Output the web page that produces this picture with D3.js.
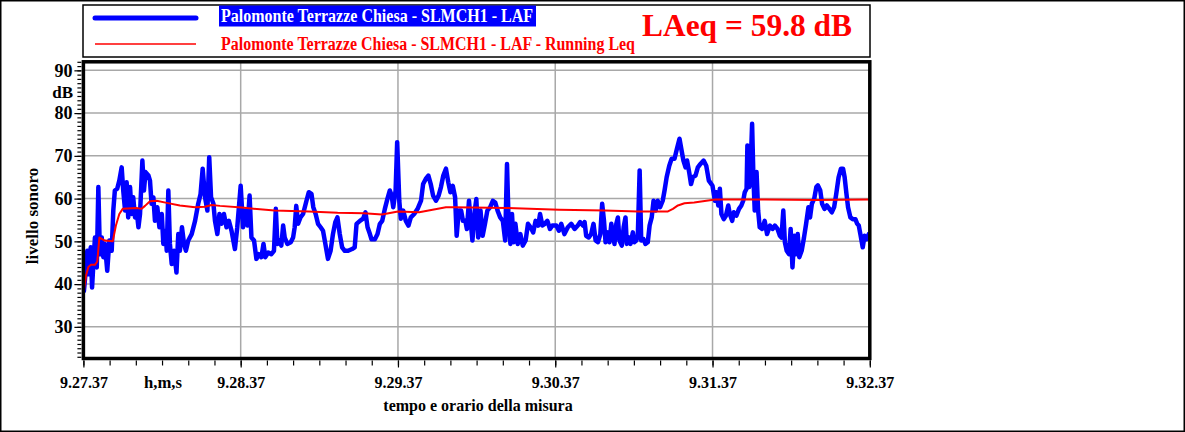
<!DOCTYPE html>
<html><head><meta charset="utf-8">
<script src="https://cdn.jsdelivr.net/npm/d3@7"></script>
<style>body{margin:0;background:#fff;overflow:hidden}text{font-family:"Liberation Serif","Times New Roman",serif;font-weight:bold}</style>
</head><body><svg id="c" width="1185" height="432"></svg>
<script>
// LAF level, seconds from 9.27.37
const lafTime = [0.2,1.0,1.5,2.1,2.8,3.3,3.8,4.4,5.1,5.7,6.3,7.0,7.6,8.2,9.1,9.9,10.8,11.4,12.0,12.9,13.7,14.6,15.2,15.9,16.5,17.1,17.8,18.4,19.0,19.7,20.3,21.0,21.6,22.5,23.1,23.7,24.8,25.4,26.0,26.7,27.3,28.2,29.0,29.9,30.5,31.3,31.8,32.4,33.0,33.7,34.6,35.5,36.2,36.8,37.6,38.4,39.1,40.0,41.3,42.6,43.8,44.7,45.5,46.4,47.3,48.0,48.7,49.6,50.2,51.1,51.9,52.7,53.6,54.6,55.5,56.5,57.8,58.7,
60.0,60.9,61.8,62.6,63.4,64.1,65.1,66.0,66.9,67.9,68.7,69.4,70.5,71.7,72.7,73.4,74.0,74.9,75.5,76.2,76.8,77.8,79.1,80.0,80.6,81.2,81.9,82.8,83.8,85.1,86.0,87.0,87.7,88.6,89.5,90.5,91.4,92.3,93.3,94.3,95.2,96.1,96.9,97.8,98.7,99.7,101.0,102.5,103.5,104.2,105.5,106.7,107.6,108.4,109.3,109.9,111.2,112.2,113.1,114.0,115.0,116.0,116.9,117.6,118.2,119.1,119.7,
120.5,121.1,122.0,123.0,124.0,124.9,126.2,127.5,128.8,129.6,130.6,131.6,132.5,133.4,134.5,135.5,136.4,137.3,138.3,139.2,140.0,140.9,141.8,142.4,143.2,144.1,144.8,145.7,146.3,147.1,147.6,148.4,149.3,149.9,150.6,151.5,152.3,153.2,154.1,155.2,156.2,157.1,158.0,159.0,160.0,160.9,161.6,162.2,162.9,163.5,164.1,164.8,165.7,166.7,167.6,168.7,169.6,170.6,171.6,172.5,173.5,174.2,175.1,176.0,177.0,178.0,178.9,
180.4,181.4,182.3,183.5,184.8,186.1,187.4,188.6,189.5,190.6,191.2,191.8,192.8,193.7,194.6,195.4,196.3,197.2,197.9,198.6,199.2,200.1,200.7,201.4,202.0,202.6,203.3,203.9,204.5,205.4,206.1,206.8,207.3,208.1,208.7,209.6,210.2,210.9,211.5,212.2,212.8,213.7,214.4,215.3,216.0,216.8,217.5,218.3,219.1,220.0,221.0,221.7,222.5,223.5,224.4,225.5,226.4,227.4,228.3,228.9,229.7,230.3,231.2,231.8,232.5,233.5,234.4,235.4,236.6,237.6,238.6,
240.0,240.9,241.5,242.2,242.8,243.4,244.3,245.1,246.0,246.6,247.5,248.1,249.1,250.1,251.0,251.7,252.3,253.0,253.3,254.0,254.5,255.1,255.6,256.1,256.8,257.4,258.0,258.9,259.9,260.8,261.9,262.9,263.8,264.8,265.7,266.3,267.0,267.6,268.3,269.2,269.8,270.5,271.2,271.9,272.5,273.1,274.0,274.9,275.7,276.6,277.2,277.9,278.8,279.6,280.2,281.1,281.8,282.7,283.6,284.6,285.5,286.4,287.2,288.1,289.0,289.8,290.4,291.1,291.7,292.6,293.5,294.5,295.2,295.8,296.4,297.3,298.0,298.7,299.6];
const lafLevel = [38.4,43.9,47.8,42.3,48.6,39.2,44.7,50.9,43.9,62.7,47.0,50.9,46.3,49.4,43.1,50.2,47.8,57.2,61.9,62.3,64.2,67.3,61.9,57.2,63.8,55.6,62.7,56.4,60.3,55.6,57.2,53.3,56.4,68.9,61.9,66.2,65.4,64.2,58.8,60.3,54.8,58.0,53.3,56.4,49.4,52.5,47.8,61.9,49.4,44.7,47.8,42.7,51.7,47.8,53.3,49.4,47.8,50.2,51.7,54.8,58.8,61.1,67.0,60.3,57.2,69.7,60.3,58.8,54.8,51.7,56.4,54.1,56.4,53.3,54.8,52.5,48.2,53.3,
63.0,53.3,57.2,53.7,60.7,50.9,50.2,45.9,47.0,46.3,49.4,46.3,47.4,47.0,47.8,57.6,49.4,50.2,49.0,53.7,50.9,49.4,49.8,50.9,53.3,58.3,54.1,55.6,56.4,59.5,61.5,61.1,58.0,56.4,54.1,53.3,52.5,49.4,45.9,47.8,51.7,54.5,55.6,51.7,48.6,47.8,47.8,48.2,48.6,54.1,54.8,55.3,56.8,53.3,51.7,50.5,50.5,51.7,54.1,54.8,57.6,60.0,61.9,60.7,58.0,61.9,73.2,
59.5,55.3,57.2,54.8,53.7,55.6,56.4,57.6,59.5,63.4,64.6,65.4,63.4,60.7,59.5,60.7,62.7,65.4,67.0,63.8,61.5,63.0,60.3,51.3,57.2,57.2,54.8,54.8,52.9,59.5,55.6,50.2,57.2,59.9,50.9,57.2,51.3,54.1,57.2,58.0,59.5,59.1,57.2,55.6,54.8,50.2,68.1,54.8,49.4,56.4,49.8,54.1,49.4,51.7,49.0,50.2,54.1,53.3,52.1,54.8,53.7,56.4,53.7,54.1,54.8,52.9,53.7,
53.7,52.5,54.1,51.7,53.3,54.1,52.9,53.7,54.5,53.7,54.5,51.3,50.9,51.7,54.1,50.2,49.8,51.7,58.8,54.8,49.8,52.1,49.8,54.1,51.7,49.4,54.1,55.6,50.2,49.0,53.3,55.6,49.4,50.9,49.4,52.1,49.8,50.2,51.3,66.6,50.2,50.5,49.4,49.8,53.7,55.6,59.5,57.2,59.5,58.0,59.5,61.9,65.0,67.7,69.3,69.3,71.6,74.0,70.9,68.9,67.3,68.9,65.8,63.4,65.0,65.4,67.3,68.1,68.9,67.7,64.2,
63.0,59.5,61.5,58.4,62.3,56.4,55.2,56.0,58.4,56.4,54.8,56.8,56.0,57.6,58.4,59.5,61.5,62.3,72.4,62.7,66.6,77.5,65.0,57.2,66.2,57.2,53.3,52.9,54.8,51.7,53.7,52.9,53.7,52.9,51.3,50.9,57.2,49.8,47.8,47.0,52.9,43.9,51.3,47.0,51.7,46.3,47.8,50.9,54.1,58.0,55.6,58.8,60.0,62.7,63.1,61.9,58.8,57.6,58.4,57.6,56.8,58.0,61.1,65.0,67.0,67.0,65.0,61.1,58.0,55.6,55.2,55.2,54.1,53.7,51.7,48.6,51.3,50.5,51.7];
// Running Leq
const leqTime = [0.2,1.0,1.9,2.8,4.4,5.3,6.1,8.2,11.2,12.4,13.7,15.0,20.3,22.2,23.5,25.4,27.9,31.8,36.8,42.6,46.4,48.9,52.1,60.4,72.9,86.0,97.0,107.0,113.9,120.0,128.1,138.3,141.5,161.6,181.5,198.9,211.6,223.0,224.9,226.8,229.3,233.0,241.0,260.0,280.0,299.6];
const leqLevel = [38.4,42.0,44.0,44.5,44.5,45.3,50.9,50.2,50.0,53.7,56.4,57.6,57.8,57.6,58.3,59.4,59.5,59.0,58.4,58.0,58.1,58.5,58.3,57.9,57.2,57.0,56.7,56.6,56.3,57.0,56.8,58.0,58.0,57.8,57.4,57.2,57.0,57.0,57.6,58.4,58.9,59.1,59.8,59.8,59.7,59.8];
const yTicks = [30,40,50,60,70,80,90];
const xTickSeconds = [0,60,120,180,240,300];
const xTickLabels = ["9.27.37","9.28.37","9.29.37","9.30.37","9.31.37","9.32.37"];
const legendLabels = ["Palomonte Terrazze Chiesa - SLMCH1 - LAF","Palomonte Terrazze Chiesa - SLMCH1 - LAF - Running Leq"];
const laeqLabel = "LAeq = 59.8 dB";

const svg = d3.select("#c");
const L = 83.4, R = 869.8, T = 61.8, B = 358.5;
const x = d3.scaleLinear().domain([0,300]).range([L,R]);
const y = d3.scaleLinear().domain([22.6,92]).range([B,T]);

// outer border
svg.append("rect").attr("x",0.75).attr("y",0.75).attr("width",1183.5).attr("height",430.5)
  .attr("fill","none").attr("stroke","#000").attr("stroke-width",1.5);

// grid
const grid = svg.append("g").attr("stroke","#a8a8a8").attr("stroke-width",1.5);
grid.selectAll("line.h").data(yTicks).join("line")
  .attr("x1",L).attr("x2",R).attr("y1",d=>y(d)).attr("y2",d=>y(d));
grid.selectAll("line.v").data(xTickSeconds.slice(1,-1)).join("line")
  .attr("y1",T).attr("y2",B).attr("x1",d=>x(d)).attr("x2",d=>x(d));

// axes
const yMinor = svg.append("g").attr("transform",`translate(${L-2},0)`)
  .call(d3.axisLeft(y).tickValues(d3.range(23,93)).tickSize(4).tickFormat(""));
const yMajor = svg.append("g").attr("transform",`translate(${L-2},0)`)
  .call(d3.axisLeft(y).tickValues(yTicks).tickSize(7).tickPadding(2).tickFormat(d3.format("d")));
const xMinor = svg.append("g").attr("transform",`translate(0,${B+2})`)
  .call(d3.axisBottom(x).tickValues(d3.range(0,301,10)).tickSize(5).tickFormat(""));
const xMajor = svg.append("g").attr("transform",`translate(0,${B+2})`)
  .call(d3.axisBottom(x).tickValues(xTickSeconds).tickSize(7).tickFormat((d,i)=>xTickLabels[i]));
[yMinor,yMajor,xMinor,xMajor].forEach(g=>{
  g.select(".domain").remove();
  g.selectAll(".tick line").attr("stroke","#000").attr("stroke-width",1.2);
});
yMajor.selectAll("text").attr("font-size",18).attr("fill","#000").attr("font-family","Liberation Serif").attr("font-weight","bold");
xMajor.selectAll("text").attr("font-size",16).attr("fill","#000").attr("y",27).attr("dy",0)
  .attr("font-family","Liberation Serif").attr("font-weight","bold");

// data lines
svg.append("clipPath").attr("id","clip").append("rect").attr("x",L).attr("y",T).attr("width",R-L).attr("height",B-T);
const plot = svg.append("g").attr("clip-path","url(#clip)");
const line = d3.line().x(d=>x(d[0])).y(d=>y(d[1]));
plot.append("path").datum(lafTime.map((t,i)=>[t,lafLevel[i]]))
  .attr("d",line).attr("fill","none").attr("stroke","#0000ff").attr("stroke-width",4.5)
  .attr("stroke-linejoin","round").attr("stroke-linecap","round");
plot.append("path").datum(leqTime.map((t,i)=>[t,leqLevel[i]]))
  .attr("d",line).attr("fill","none").attr("stroke","#ff0000").attr("stroke-width",2)
  .attr("stroke-linejoin","round");

// frame
svg.append("rect").attr("x",L).attr("y",T).attr("width",R-L).attr("height",B-T)
  .attr("fill","none").attr("stroke","#000").attr("stroke-width",3.5);

// axis texts
svg.append("text").attr("x",73).attr("y",98).attr("text-anchor","end").attr("font-size",17).text("dB");
svg.append("text").attr("x",163).attr("y",387.5).attr("text-anchor","middle").attr("font-size",16)
  .attr("textLength",38).attr("lengthAdjust","spacingAndGlyphs").text("h,m,s");
svg.append("text").attr("x",478).attr("y",411).attr("text-anchor","middle").attr("font-size",16).text("tempo e orario della misura");
svg.append("text").attr("transform","translate(38,216) rotate(-90)").attr("text-anchor","middle").attr("font-size",17).text("livello sonoro");

// legend
svg.append("rect").attr("x",83).attr("y",5).attr("width",787).attr("height",52)
  .attr("fill","#fff").attr("stroke","#000").attr("stroke-width",1.5);
svg.append("line").attr("x1",95).attr("x2",196).attr("y1",18).attr("y2",18).attr("stroke","#0000ff").attr("stroke-width",5).attr("stroke-linecap","round");
svg.append("line").attr("x1",95).attr("x2",196).attr("y1",44).attr("y2",44).attr("stroke","#ff0000").attr("stroke-width",1.5);
svg.append("rect").attr("x",219).attr("y",5.5).attr("width",317).attr("height",21).attr("fill","#0000ff");
svg.append("text").attr("x",221).attr("y",22).attr("font-size",18).attr("fill","#fff")
  .attr("textLength",312).attr("lengthAdjust","spacingAndGlyphs").text(legendLabels[0]);
svg.append("text").attr("x",221).attr("y",50).attr("font-size",18).attr("fill","#ff0000")
  .attr("textLength",414).attr("lengthAdjust","spacingAndGlyphs").text(legendLabels[1]);
svg.append("text").attr("x",642).attr("y",36).attr("font-size",32).attr("fill","#ff0000")
  .attr("textLength",210).attr("lengthAdjust","spacingAndGlyphs").text(laeqLabel);
</script></body></html>
